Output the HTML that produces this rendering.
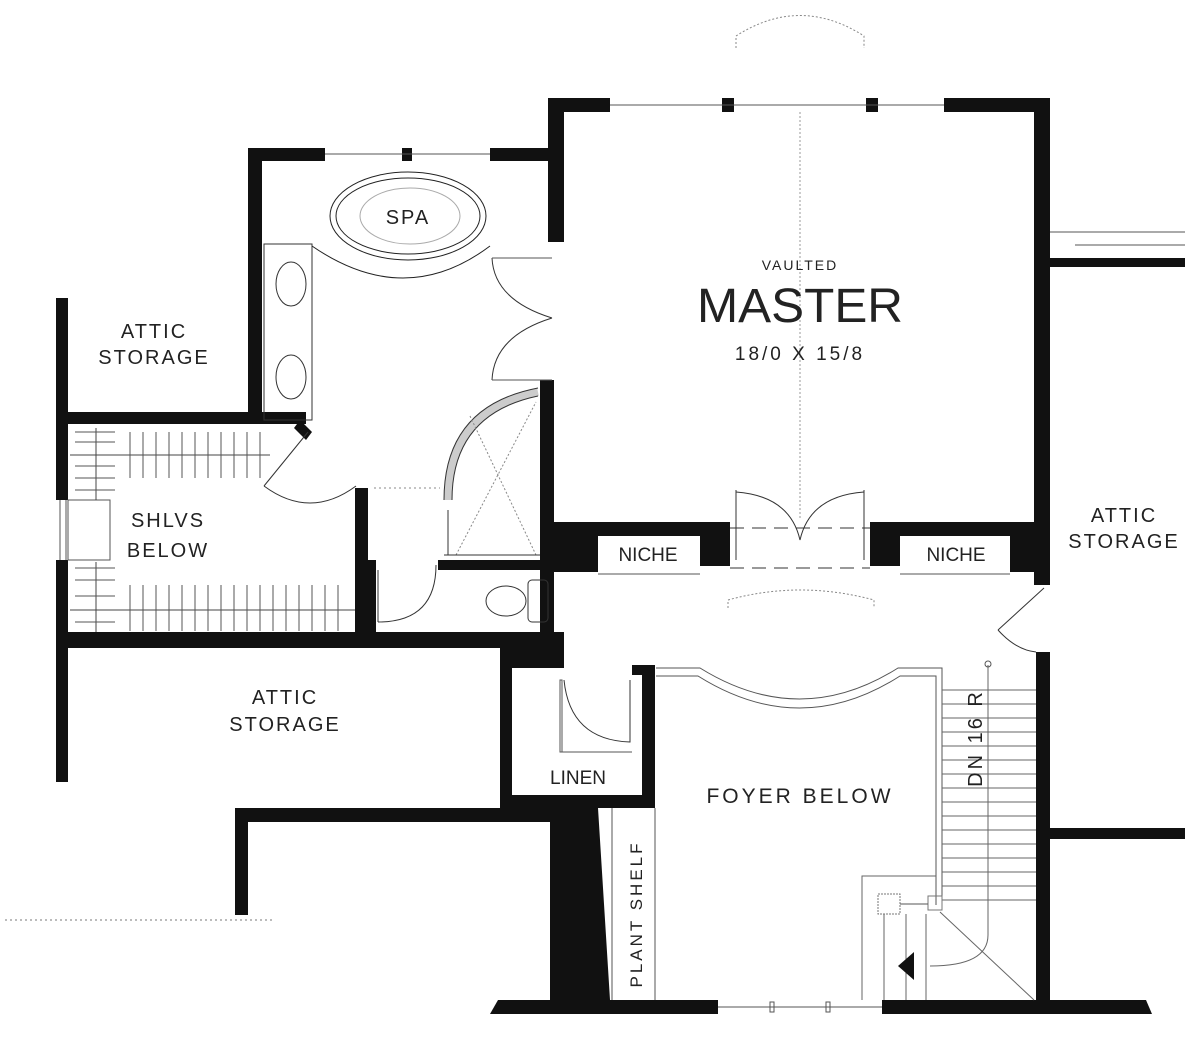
<!DOCTYPE html>
<html><head><meta charset="utf-8"><style>
html,body{margin:0;padding:0;background:#fff}
svg{display:block}
text{font-family:"Liberation Sans",sans-serif;fill:#222}
</style></head><body>
<svg width="1200" height="1064" viewBox="0 0 1200 1064" xmlns="http://www.w3.org/2000/svg">
<g fill="#111">
<rect x="548" y="98" width="62" height="14"/>
<rect x="722" y="98" width="12" height="14"/>
<rect x="866" y="98" width="12" height="14"/>
<rect x="944" y="98" width="106" height="14"/>
<rect x="548" y="98" width="16" height="144"/>
<rect x="1034" y="98" width="16" height="487"/>
<rect x="1050" y="258" width="135" height="9"/>
<rect x="248" y="148" width="77" height="13"/>
<rect x="402" y="148" width="10" height="13"/>
<rect x="490" y="148" width="60" height="13"/>
<rect x="248" y="148" width="14" height="272"/>
<rect x="56" y="412" width="250" height="12"/>
<polygon points="300,420 312,432 306,440 294,428"/>
<rect x="56" y="298" width="12" height="202"/>
<rect x="56" y="560" width="12" height="222"/>
<rect x="56" y="632" width="508" height="16"/>
<rect x="355" y="488" width="13" height="146"/>
<rect x="368" y="560" width="8" height="74"/>
<rect x="540" y="380" width="14" height="252"/>
<rect x="438" y="560" width="116" height="10"/>
<rect x="552" y="522" width="178" height="14"/>
<rect x="552" y="522" width="46" height="50"/>
<rect x="700" y="522" width="30" height="44"/>
<rect x="870" y="522" width="30" height="44"/>
<rect x="870" y="522" width="180" height="14"/>
<rect x="1010" y="522" width="40" height="50"/>
<rect x="500" y="648" width="64" height="20"/>
<rect x="500" y="665" width="12" height="140"/>
<rect x="500" y="795" width="155" height="13"/>
<rect x="632" y="665" width="23" height="10"/>
<rect x="642" y="665" width="13" height="143"/>
<polygon points="550,808 598,808 610,1000 550,1000"/>
<polygon points="490,1014 498,1000 718,1000 718,1014"/>
<polygon points="882,1000 1146,1000 1152,1014 882,1014"/>
<rect x="1036" y="652" width="14" height="350"/>
<rect x="1050" y="828" width="135" height="11"/>
<rect x="235" y="808" width="315" height="14"/>
<rect x="235" y="808" width="13" height="107"/>
</g>
<g fill="none" stroke="#555" stroke-width="1">
<line x1="610" y1="105" x2="944" y2="105"/>
<line x1="325" y1="154" x2="490" y2="154"/>
<line x1="1050" y1="232" x2="1185" y2="232"/>
<line x1="1075" y1="245" x2="1185" y2="245"/>
<line x1="718" y1="1007" x2="882" y2="1007"/>
<rect x="770" y="1002" width="4" height="10"/><rect x="826" y="1002" width="4" height="10"/>
<line x1="60" y1="500" x2="60" y2="560"/><line x1="66" y1="500" x2="66" y2="560"/>
<rect x="68" y="500" width="42" height="60"/>
<ellipse cx="408" cy="216" rx="78" ry="44" stroke="#222"/>
<ellipse cx="408" cy="216" rx="72" ry="38" stroke="#222"/>
<ellipse cx="410" cy="216" rx="50" ry="28" stroke="#aaa"/>
<path d="M312 246 Q405 310 490 246" stroke="#222"/>
<rect x="264" y="244" width="48" height="176" stroke="#333"/>
<ellipse cx="291" cy="284" rx="15" ry="22" stroke="#333"/>
<ellipse cx="291" cy="377" rx="15" ry="22" stroke="#333"/>
<path d="M492 258 Q494 300 552 318" stroke="#333"/>
<path d="M492 380 Q494 336 552 318" stroke="#333"/>
<line x1="492" y1="258" x2="552" y2="258"/><line x1="492" y1="380" x2="552" y2="380"/>
<path d="M264 486 Q310 520 356 486" stroke="#333"/>
<line x1="264" y1="486" x2="308" y2="432" stroke="#333"/>
<path d="M448 500 Q448 410 538 392" stroke="#333" stroke-width="8" stroke-opacity="0.25"/>
<path d="M444 500 Q444 406 538 388" stroke="#333"/>
<path d="M452 500 Q452 414 538 396" stroke="#333"/>
<line x1="448" y1="555" x2="448" y2="510" stroke="#333"/>
<line x1="456" y1="555" x2="536" y2="402" stroke="#888" stroke-dasharray="2 2"/>
<line x1="470" y1="416" x2="536" y2="555" stroke="#888" stroke-dasharray="2 2"/>
<line x1="374" y1="488" x2="440" y2="488" stroke="#888" stroke-dasharray="2 3"/>
<line x1="444" y1="555" x2="540" y2="555" stroke="#333"/>
<path d="M378 622 Q436 622 436 565" stroke="#333"/>
<line x1="378" y1="570" x2="378" y2="622" stroke="#333"/>
<ellipse cx="506" cy="601" rx="20" ry="15" stroke="#333"/>
<rect x="528" y="580" width="20" height="42" rx="4" stroke="#333"/>
<g stroke="#444">
<line x1="70" y1="455" x2="270" y2="455"/>
<line x1="70" y1="610" x2="355" y2="610"/>
<line x1="96" y1="428" x2="96" y2="500"/><line x1="96" y1="562" x2="96" y2="632"/>
</g>
<g stroke="#555">
<path d="M75 432h40M75 442h40M75 466h40M75 478h40M75 490h40M75 568h40M75 580h40M75 596h40M75 622h40"/>
<path d="M130 432v46M143 432v46M156 432v46M169 432v46M182 432v46M195 432v46M208 432v46M221 432v46M234 432v46M247 432v46M260 432v46"/>
<path d="M130 585v46M143 585v46M156 585v46M169 585v46M182 585v46M195 585v46M208 585v46M221 585v46M234 585v46M247 585v46M260 585v46M273 585v46M286 585v46M299 585v46M312 585v46M325 585v46M338 585v46"/>
</g>
<line x1="800" y1="112" x2="800" y2="520" stroke="#999" stroke-dasharray="2 2"/>
<path d="M736 48 L736 36 Q800 -5 864 36 L864 48" stroke="#888" stroke-dasharray="2 2"/>
<path d="M728 608 L728 600 Q800 580 874 600 L874 608" stroke="#888" stroke-dasharray="2 2"/>
<line x1="598" y1="574" x2="700" y2="574"/><line x1="900" y1="574" x2="1010" y2="574"/>
<line x1="736" y1="490" x2="736" y2="560" stroke="#333"/><line x1="864" y1="490" x2="864" y2="560" stroke="#333"/>
<path d="M736 492 Q790 496 800 540 Q810 496 864 492" stroke="#333"/>
<line x1="730" y1="528" x2="870" y2="528" stroke="#333" stroke-dasharray="14 8"/>
<line x1="730" y1="568" x2="870" y2="568" stroke="#333" stroke-dasharray="14 8"/>
<line x1="1044" y1="588" x2="998" y2="630" stroke="#333"/>
<path d="M998 630 Q1016 650 1036 652" stroke="#333"/>
<path d="M656 668 H700 Q800 730 898 668 H942 V905" stroke="#555"/>
<path d="M656 676 H698 Q800 740 900 676 H936 V905" stroke="#555"/>
<path d="M564 680 Q570 740 630 742 V680" stroke="#333"/>
<rect x="560" y="680" width="2" height="72"/>
<line x1="560" y1="752" x2="632" y2="752"/>
<line x1="655" y1="808" x2="655" y2="1000"/>
<line x1="612" y1="808" x2="612" y2="1000"/>
<g stroke="#666">
<path d="M942 690h94M942 704h94M942 718h94M942 732h94M942 746h94M942 760h94M942 774h94M942 788h94M942 802h94M942 816h94M942 830h94M942 844h94M942 858h94M942 872h94M942 886h94M942 900h94"/>
<path d="M988 665 V935 Q988 966 930 966"/>
<path d="M862 1000 V876 H936 M884 1000 V914 M906 1000 V914 M926 1000 V914"/>
<line x1="940" y1="912" x2="1034" y2="1000"/>
</g>
<circle cx="988" cy="664" r="3" stroke="#555"/>
<rect x="878" y="894" width="22" height="20" stroke="#777" stroke-dasharray="2 1"/>
<rect x="928" y="896" width="14" height="14" stroke="#777"/>
<line x1="900" y1="904" x2="928" y2="904"/>
<line x1="5" y1="920" x2="275" y2="920" stroke="#777" stroke-dasharray="2 3"/>
</g>
<polygon points="898,966 914,952 914,980" fill="#111"/>
<g text-anchor="middle">
<text x="408" y="224" font-size="20" letter-spacing="2">SPA</text>
<text x="154" y="338" font-size="20" letter-spacing="2">ATTIC</text>
<text x="154" y="364" font-size="20" letter-spacing="2">STORAGE</text>
<text x="168" y="527" font-size="20" letter-spacing="2">SHLVS</text>
<text x="168" y="557" font-size="20" letter-spacing="2">BELOW</text>
<text x="800" y="270" font-size="14" letter-spacing="2">VAULTED</text>
<text x="800" y="322" font-size="48" textLength="206" lengthAdjust="spacingAndGlyphs">MASTER</text>
<text x="800" y="360" font-size="19" letter-spacing="3">18/0 X 15/8</text>
<text x="648" y="561" font-size="19">NICHE</text>
<text x="956" y="561" font-size="19">NICHE</text>
<text x="1124" y="522" font-size="20" letter-spacing="2">ATTIC</text>
<text x="1124" y="548" font-size="20" letter-spacing="2">STORAGE</text>
<text x="285" y="704" font-size="20" letter-spacing="2">ATTIC</text>
<text x="285" y="731" font-size="20" letter-spacing="2">STORAGE</text>
<text x="578" y="784" font-size="19">LINEN</text>
<text x="800" y="803" font-size="21" letter-spacing="3">FOYER BELOW</text>
<text transform="translate(982,738) rotate(-90)" font-size="20" letter-spacing="3">DN 16 R</text>
<text transform="translate(642,914) rotate(-90)" font-size="17" letter-spacing="3">PLANT SHELF</text>
</g>
</svg>
</body></html>
